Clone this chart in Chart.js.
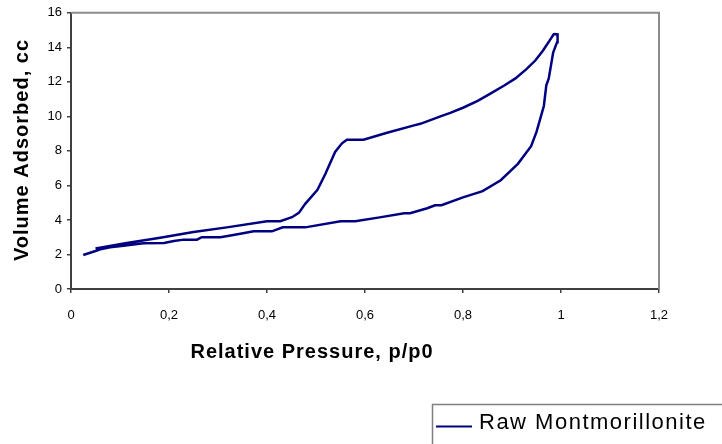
<!DOCTYPE html>
<html lang="en">
<head>
  <meta charset="UTF-8">
  <title>Nitrogen isotherm</title>
  <script src="https://cdn.jsdelivr.net/npm/chart.js"></script>
  <style>
    body {
      margin: 0;
      background: white;
    }

    .wrap {
      width: 722px;
      height: 444px;
    }
  </style>
</head>
<body>
  <div class="wrap">
    <canvas id="chart" width="722" height="444"></canvas>
  </div>
  <script>
    // adsorption branch (lower curve), then desorption branch back down
    const adsPressure = [0.025, 0.05, 0.06, 0.08, 0.107, 0.148, 0.19, 0.21, 0.23, 0.257, 0.267, 0.305, 0.34,
      0.373, 0.41, 0.432, 0.478, 0.55, 0.58, 0.63, 0.68, 0.692, 0.727, 0.743, 0.756, 0.80, 0.84, 0.877,
      0.912, 0.939, 0.95, 0.958, 0.965, 0.97, 0.975, 0.984, 0.992, 0.993, 0.987];
    const adsVolume = [1.97, 2.2, 2.3, 2.42, 2.5, 2.65, 2.67, 2.78, 2.86, 2.86, 3.0, 3.0, 3.17,
      3.34, 3.34, 3.57, 3.57, 3.93, 3.93, 4.15, 4.39, 4.39, 4.68, 4.85, 4.85, 5.31, 5.67, 6.3,
      7.25, 8.27, 9.1, 9.9, 10.6, 11.8, 12.2, 13.7, 14.3, 14.75, 14.77];
    const desPressure = [0.985, 0.977, 0.963, 0.948, 0.93, 0.907, 0.885, 0.855, 0.83, 0.80, 0.774, 0.754,
      0.713, 0.70, 0.645, 0.597, 0.563, 0.553, 0.539, 0.519, 0.503, 0.478, 0.465, 0.451, 0.427, 0.40,
      0.318, 0.25, 0.182, 0.114, 0.05];
    const desVolume = [14.75, 14.4, 13.8, 13.25, 12.75, 12.2, 11.8, 11.3, 10.9, 10.5, 10.2, 10.0,
      9.57, 9.48, 9.05, 8.65, 8.65, 8.44, 7.94, 6.66, 5.74, 4.93, 4.41, 4.16, 3.93, 3.93,
      3.57, 3.3, 2.97, 2.67, 2.35];

    const seriesName = 'Raw Montmorillonite';
    const xTitle = 'Relative Pressure, p/p0';
    const yTitle = 'Volume Adsorbed, cc';

    const points = adsPressure.map((p, i) => ({ x: p, y: adsVolume[i] }))
      .concat(desPressure.map((p, i) => ({ x: p, y: desVolume[i] })));

    const FONT = "'Liberation Sans', Arial, sans-serif";

    function commaLabel(v) {
      const r = Math.round(v * 10) / 10;
      return Number.isInteger(r) ? String(r) : r.toFixed(1).replace('.', ',');
    }

    // frame, axis titles and the boxed legend
    const extras = {
      id: 'extras',
      afterDraw(chart) {
        const ctx = chart.ctx;
        const a = chart.chartArea;
        ctx.save();
        ctx.strokeStyle = '#8c8c8c';
        ctx.lineWidth = 2;
        ctx.beginPath();
        ctx.moveTo(a.left, a.top);
        ctx.lineTo(a.right, a.top);
        ctx.lineTo(a.right, a.bottom);
        ctx.stroke();

        ctx.fillStyle = '#000';
        ctx.font = 'bold 20px ' + FONT;
        ctx.letterSpacing = '1px';
        ctx.textAlign = 'center';
        ctx.textBaseline = 'alphabetic';
        ctx.fillText(xTitle, 312, 358);

        ctx.save();
        ctx.translate(28, 150);
        ctx.rotate(-Math.PI / 2);
        ctx.fillText(yTitle, 0, 0);
        ctx.restore();

        ctx.strokeStyle = '#808080';
        ctx.lineWidth = 1.5;
        ctx.strokeRect(432.5, 404.5, 300, 60);
        ctx.strokeStyle = '#000080';
        ctx.lineWidth = 2;
        ctx.beginPath();
        ctx.moveTo(436, 426.5);
        ctx.lineTo(472, 426.5);
        ctx.stroke();
        ctx.fillStyle = '#000';
        ctx.font = '22px ' + FONT;
        ctx.letterSpacing = '1.5px';
        ctx.textAlign = 'left';
        ctx.textBaseline = 'middle';
        ctx.fillText(seriesName, 479, 423);
        ctx.restore();
      }
    };

    new Chart(document.getElementById('chart'), {
      type: 'scatter',
      data: {
        datasets: [{
          label: seriesName,
          data: points,
          showLine: true,
          borderColor: '#000080',
          borderWidth: 2.5,
          pointRadius: 0,
          tension: 0,
          fill: false
        }]
      },
      options: {
        responsive: false,
        animation: false,
        layout: { padding: { top: 11, right: 63, left: 0, bottom: 0 } },
        plugins: {
          legend: { display: false },
          tooltip: { enabled: false }
        },
        scales: {
          x: {
            type: 'linear',
            min: 0,
            max: 1.2,
            afterFit(scale) { scale.height = 155; },
            border: { display: true, color: '#404040', width: 2 },
            grid: { drawOnChartArea: false, drawTicks: true, tickLength: 4, color: '#404040', lineWidth: 1.5 },
            ticks: {
              stepSize: 0.2,
              padding: 15,
              color: '#000',
              font: { family: FONT, size: 13 },
              maxRotation: 0,
              callback: commaLabel
            }
          },
          y: {
            min: 0,
            max: 16,
            afterFit(scale) { scale.width = 71; },
            border: { display: true, color: '#404040', width: 2 },
            grid: { drawOnChartArea: false, drawTicks: true, tickLength: 4, color: '#404040', lineWidth: 1.5 },
            ticks: {
              stepSize: 2,
              padding: 5,
              color: '#000',
              font: { family: FONT, size: 13 }
            }
          }
        }
      },
      plugins: [extras]
    });
  </script>
</body>
</html>
